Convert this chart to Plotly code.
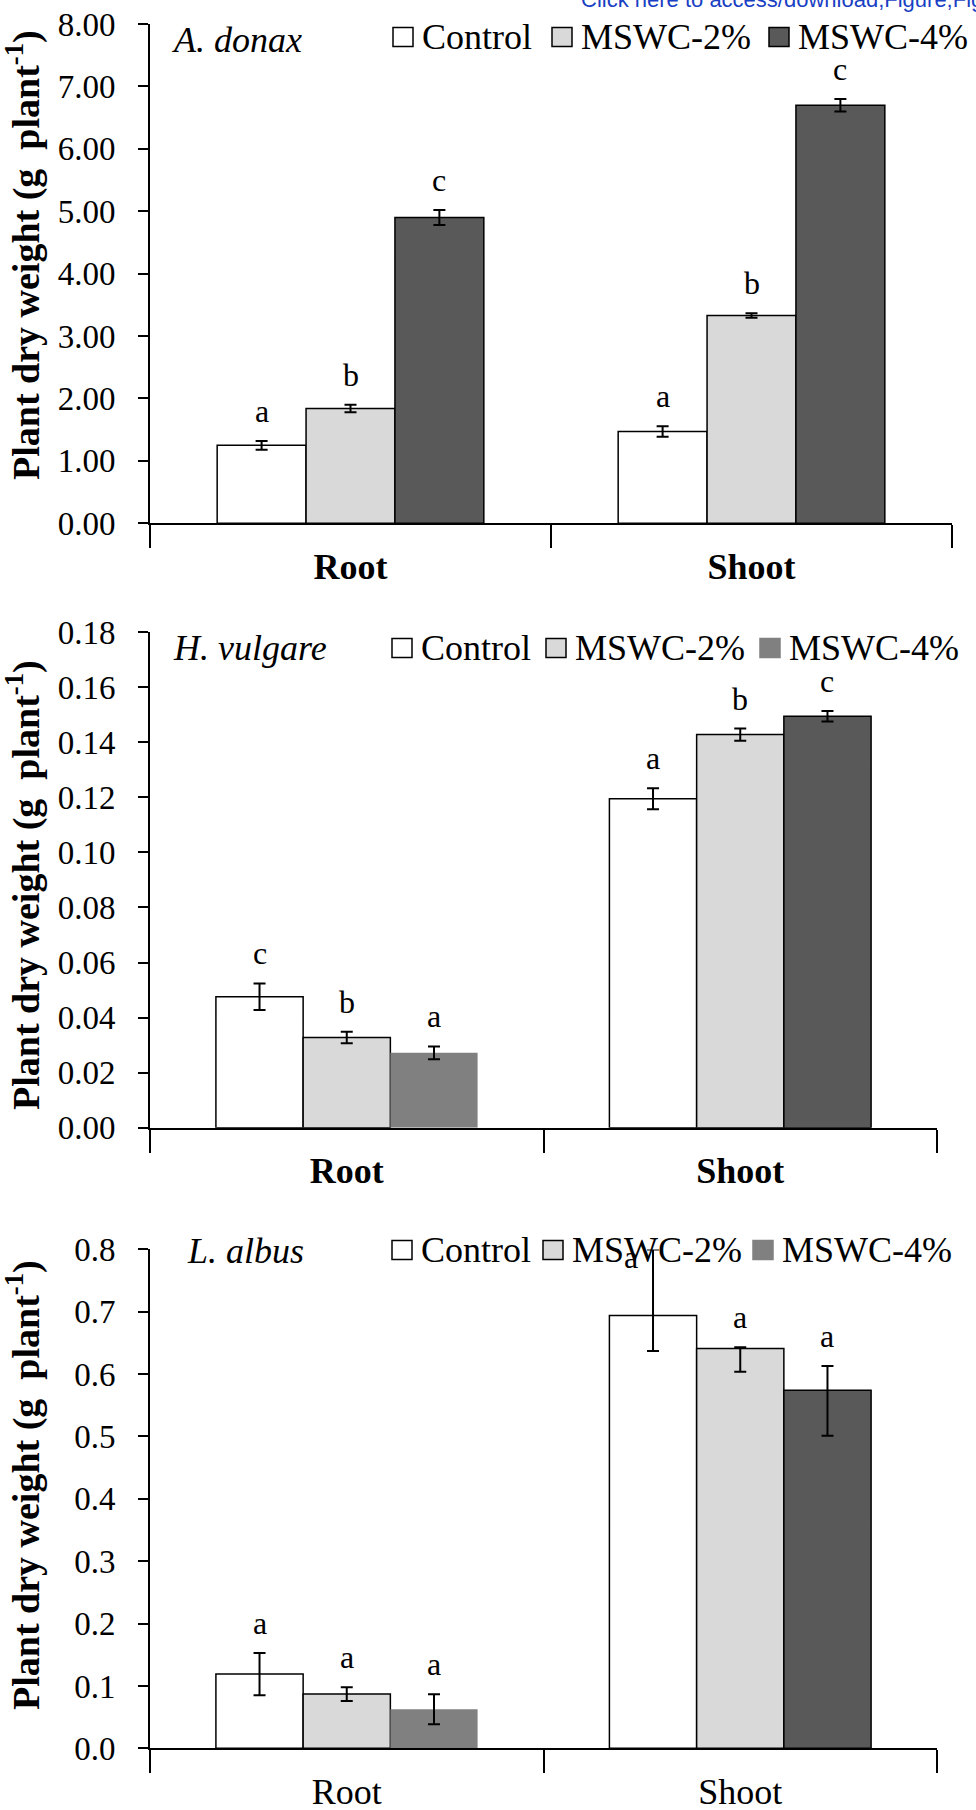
import plotly.graph_objects as go

W, H = 976, 1810

categories = ["Root", "Shoot"]
series_names = ["Control", "MSWC-2%", "MSWC-4%"]

# ---- A. donax ----
donax_control = [1.25, 1.47]
donax_control_err = [0.07, 0.085]
donax_mswc2 = [1.84, 3.33]
donax_mswc2_err = [0.06, 0.035]
donax_mswc4 = [4.90, 6.70]
donax_mswc4_err = [0.12, 0.10]
donax_letters = [["a", "a"], ["b", "b"], ["c", "c"]]

# ---- H. vulgare ----
vulgare_control = [0.0476, 0.1195]
vulgare_control_err = [0.0048, 0.0038]
vulgare_mswc2 = [0.0328, 0.1428]
vulgare_mswc2_err = [0.0021, 0.0022]
vulgare_mswc4 = [0.0272, 0.1495]
vulgare_mswc4_err = [0.0023, 0.0019]
vulgare_letters = [["c", "a"], ["b", "b"], ["a", "c"]]

# ---- L. albus ----
albus_control = [0.119, 0.694]
albus_control_err_plus = [0.034, 0.106]
albus_control_err_minus = [0.034, 0.057]
albus_mswc2 = [0.087, 0.641]
albus_mswc2_err_plus = [0.011, 0.002]
albus_mswc2_err_minus = [0.011, 0.037]
albus_mswc4 = [0.0625, 0.574]
albus_mswc4_err_plus = [0.024, 0.039]
albus_mswc4_err_minus = [0.024, 0.073]
albus_letters = [["a", "a"], ["a", "a"], ["a", "a"]]

FONT = "Times New Roman, Liberation Serif, serif"
WHITE, LGREY, MGREY, DGREY = "#ffffff", "#d9d9d9", "#808080", "#595959"


def px_x(px):
    return px / W


def px_y(py):
    return 1 - py / H


panels = [
    dict(species="A. donax", sx=170, sy=40,
         values=[donax_control, donax_mswc2, donax_mswc4],
         plus=[donax_control_err, donax_mswc2_err, donax_mswc4_err],
         minus=[donax_control_err, donax_mswc2_err, donax_mswc4_err],
         letters=donax_letters,
         colors=[[WHITE, WHITE], [LGREY, LGREY], [DGREY, DGREY]],
         lw=[[1.5, 1.5], [1.5, 1.5], [1.5, 1.5]],
         x0=150, x1=952, ytop=24, ybot=523.3, rng=[0, 8], dtick=1, fmt=".2f",
         bold=True, title_y=255,
         legend_y=37, legend_x=[393, 552, 769],
         legend_colors=[WHITE, LGREY, DGREY]),
    dict(species="H. vulgare", sx=171, sy=648,
         values=[vulgare_control, vulgare_mswc2, vulgare_mswc4],
         plus=[vulgare_control_err, vulgare_mswc2_err, vulgare_mswc4_err],
         minus=[vulgare_control_err, vulgare_mswc2_err, vulgare_mswc4_err],
         letters=vulgare_letters,
         colors=[[WHITE, WHITE], [LGREY, LGREY], [MGREY, DGREY]],
         lw=[[1.5, 1.5], [1.5, 1.5], [0, 1.5]],
         x0=150, x1=937, ytop=632.2, ybot=1127.7, rng=[0, 0.18], dtick=0.02, fmt=".2f",
         bold=True, title_y=885,
         legend_y=648, legend_x=[392, 546, 760],
         legend_colors=[WHITE, LGREY, MGREY]),
    dict(species="L. albus", sx=185, sy=1251,
         values=[albus_control, albus_mswc2, albus_mswc4],
         plus=[albus_control_err_plus, albus_mswc2_err_plus, albus_mswc4_err_plus],
         minus=[albus_control_err_minus, albus_mswc2_err_minus, albus_mswc4_err_minus],
         letters=albus_letters,
         colors=[[WHITE, WHITE], [LGREY, LGREY], [MGREY, DGREY]],
         lw=[[1.5, 1.5], [1.5, 1.5], [0, 1.5]],
         x0=150, x1=937, ytop=1249.4, ybot=1748.3, rng=[0, 0.8], dtick=0.1, fmt=".1f",
         bold=False, title_y=1485,
         legend_y=1250, legend_x=[392, 543, 753],
         legend_colors=[WHITE, LGREY, MGREY]),
]

BARGAP = 0.335
fig = go.Figure()
annotations = []
shapes = []
layout = {}

for k, p in enumerate(panels):
    sfx = "" if k == 0 else str(k + 1)
    xa, ya = "x" + sfx, "y" + sfx
    for i, name in enumerate(series_names):
        fig.add_trace(go.Bar(
            x=categories, y=p["values"][i], name=name, showlegend=False,
            xaxis=xa, yaxis=ya,
            marker=dict(color=p["colors"][i],
                        line=dict(color="black", width=p["lw"][i])),
            error_y=dict(type="data", symmetric=False,
                         array=p["plus"][i], arrayminus=p["minus"][i],
                         color="black", thickness=2, width=6),
        ))
        # significance letters
        bw = (1 - BARGAP) / 3
        for j in range(len(categories)):
            top = p["values"][i][j] + p["plus"][i][j]
            ymax = p["rng"][1]
            if top >= 0.98 * ymax:
                yv, xs, ys = ymax, -22, -8
            else:
                yv, xs, ys = top, 0, 30
            annotations.append(dict(
                x=j + (i - 1) * bw, y=yv, xref=xa, yref=ya,
                text=p["letters"][i][j], showarrow=False,
                xanchor="center", yanchor="middle", xshift=xs, yshift=ys,
                font=dict(family=FONT, size=32, color="black")))

    ticktext = [f"<b>{c}</b>" if p["bold"] else c for c in categories]
    layout["xaxis" + sfx] = dict(
        domain=[px_x(p["x0"]), px_x(p["x1"])], anchor=ya, automargin=False,
        type="category", range=[-0.5, 1.5],
        tickvals=categories, ticktext=ticktext,
        tickson="boundaries", ticks="outside", ticklen=23, tickwidth=2,
        tickcolor="black", showline=True, linecolor="black", linewidth=2,
        showgrid=False, zeroline=False, ticklabelstandoff=10,
        tickfont=dict(family=FONT, size=36, color="black"))
    layout["yaxis" + sfx] = dict(
        domain=[px_y(p["ybot"]), px_y(p["ytop"])], anchor=xa, automargin=False,
        range=p["rng"], dtick=p["dtick"], tick0=0, tickformat=p["fmt"],
        ticks="outside", ticklen=10, tickwidth=2, tickcolor="black",
        showline=True, linecolor="black", linewidth=2,
        showgrid=False, zeroline=False, ticklabelstandoff=16,
        tickfont=dict(family=FONT, size=33, color="black"))

    # y-axis title
    annotations.append(dict(
        x=px_x(23), y=px_y(p["title_y"]), xref="paper", yref="paper",
        text="<b>Plant dry weight (g\u00a0\u00a0plant<sup>-1</sup>)</b>",
        textangle=-90, showarrow=False, xanchor="center", yanchor="middle",
        font=dict(family=FONT, size=38, color="black")))
    # species label
    annotations.append(dict(
        x=px_x(p["sx"]), y=px_y(p["sy"]), xref="paper", yref="paper",
        text=f"<i>{p['species']}</i>", showarrow=False,
        xanchor="left", yanchor="middle",
        font=dict(family=FONT, size=36, color="black")))
    # manual legend
    for i, name in enumerate(series_names):
        bx = p["legend_x"][i]
        cy = p["legend_y"]
        shapes.append(dict(
            type="rect", xref="paper", yref="paper",
            x0=px_x(bx), x1=px_x(bx + 20), y0=px_y(cy + 9.5), y1=px_y(cy - 9.5),
            fillcolor=p["legend_colors"][i],
            line=dict(color="black" if p["legend_colors"][i] != MGREY else MGREY, width=1.5)))
        annotations.append(dict(
            x=px_x(bx + 27), y=px_y(cy), xref="paper", yref="paper",
            text=name, showarrow=False, xanchor="left", yanchor="middle",
            font=dict(family=FONT, size=36, color="black")))

# cut-off header link text at the very top
annotations.append(dict(
    x=px_x(579), y=px_y(-1), xref="paper", yref="paper",
    text="Click here to access/download;Figure;Figure", showarrow=False,
    xanchor="left", yanchor="middle",
    font=dict(family="Liberation Sans, Arial, sans-serif", size=22, color="#1a3fc4")))

fig.update_layout(
    width=W, height=H, margin=dict(l=0, r=0, t=0, b=0, autoexpand=False),
    paper_bgcolor="white", plot_bgcolor="white",
    barmode="group", bargap=BARGAP, bargroupgap=0,
    showlegend=False, annotations=annotations, shapes=shapes,
    **layout)

fig.write_html("out.html")
